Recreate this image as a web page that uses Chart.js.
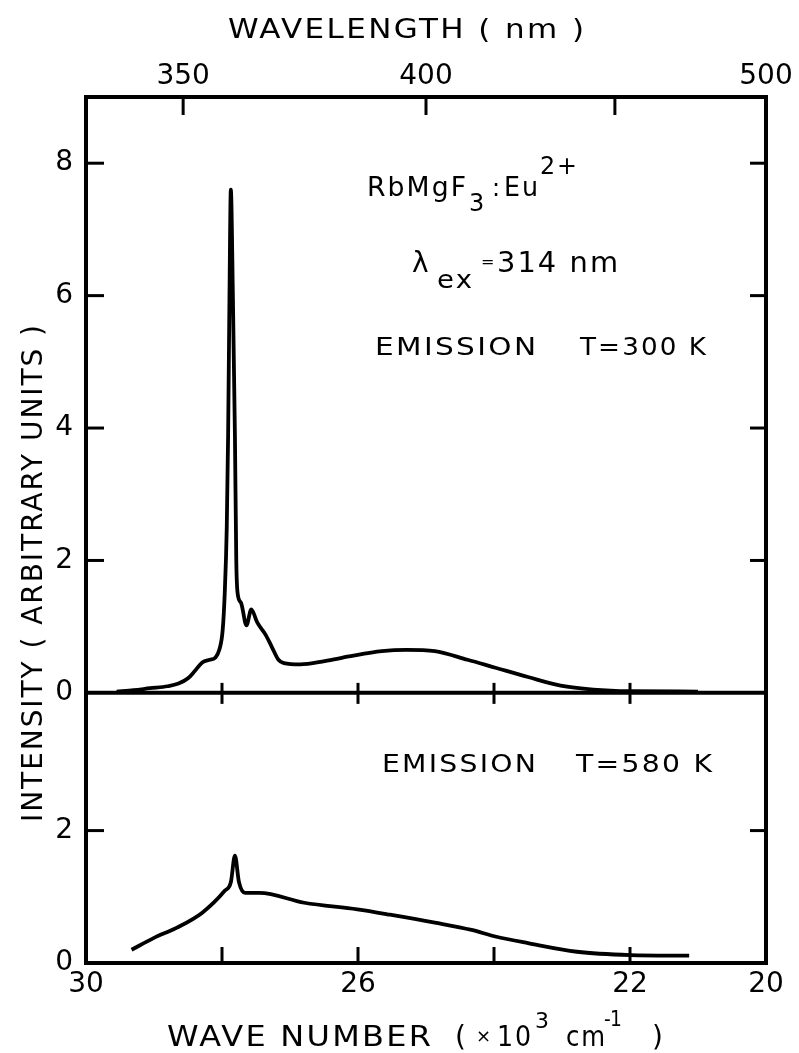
<!DOCTYPE html>
<html>
<head>
<meta charset="utf-8">
<script src="https://cdn.jsdelivr.net/npm/chart.js@4.4.1/dist/chart.umd.min.js"></script>
<style>
  html, body { margin: 0; padding: 0; background: #fff; }
  #contenedor { width: 799px; height: 1053px; }
</style>
</head>
<body>
<div id="contenedor"><canvas id="grafica" width="799" height="1053"></canvas></div>
<script>
// valores: numero de onda (x10^3 cm-1) e intensidad
const numOnda300 = [29.55, 29.3, 29.06, 28.8, 28.64, 28.5, 28.4, 28.29, 28.18, 28.1, 28.04, 27.99, 27.96, 27.93, 27.91, 27.89, 27.87, 27.84, 27.81, 27.79, 27.77, 27.72, 27.64, 27.57, 27.48, 27.36, 27.27, 27.17, 27.09, 26.85, 26.49, 26.13, 25.65, 25.29, 24.87, 24.39, 23.98, 23.5, 23.02, 22.54, 22.0, 21.0];
const intens300 = [0.02, 0.04, 0.07, 0.1, 0.14, 0.22, 0.33, 0.46, 0.5, 0.53, 0.65, 0.95, 1.5, 2.5, 3.9, 6.0, 7.6, 6.0, 3.9, 2.0, 1.5, 1.36, 1.02, 1.26, 1.06, 0.88, 0.7, 0.5, 0.45, 0.43, 0.48, 0.55, 0.63, 0.65, 0.63, 0.5, 0.38, 0.24, 0.11, 0.05, 0.025, 0.02];

const numOnda580 = [29.33, 29.0, 28.67, 28.29, 27.96, 27.87, 27.81, 27.75, 27.66, 27.45, 26.79, 26.01, 25.53, 24.87, 24.33, 23.98, 23.5, 22.78, 21.99, 21.13];
const intens580 = [0.2, 0.38, 0.53, 0.76, 1.09, 1.22, 1.62, 1.22, 1.06, 1.06, 0.91, 0.81, 0.73, 0.61, 0.5, 0.4, 0.3, 0.17, 0.12, 0.11];

// ejes
const marcasNumOnda = [28, 26, 24, 22];
const etiquetasNumOnda = [30, 26, 22, 20];
const marcasLongitud = [350, 400, 450];
const etiquetasLongitud = [350, 400, 500];
const ticksArriba = [0, 2, 4, 6, 8];
const ticksAbajo = [0, 2];

const FUENTE = "DejaVu Sans";

const aPuntos = (xs, ys) => xs.map((x, i) => ({ x, y: ys[i] }));

const linea = (ctx, x1, y1, x2, y2) => {
  ctx.beginPath();
  ctx.moveTo(x1, y1);
  ctx.lineTo(x2, y2);
  ctx.stroke();
};

// escribe un texto desde x0; si se da x1 lo ensancha (letras anchas) hasta ahi
const texto = (ctx, t, x0, y, size, x1) => {
  ctx.save();
  ctx.font = `${size}px "${FUENTE}"`;
  ctx.letterSpacing = "0px";
  let sx = 1;
  let ls = 0;
  if (x1 && t.length > 1) {
    const w = ctx.measureText(t).width;
    const n = t.length - 1;
    sx = Math.max(0.85, Math.min(1.45, (x1 - x0) / (w + 2 * n)));
    ls = ((x1 - x0) / sx - w) / n;
  }
  ctx.translate(x0, y);
  ctx.scale(sx, 1);
  ctx.letterSpacing = `${ls}px`;
  ctx.fillText(t, 0, 0);
  ctx.restore();
};

const marco = {
  id: "marco",
  afterDatasetsDraw(chart) {
    const { ctx, chartArea: a, scales } = chart;
    const y0 = scales.y.getPixelForValue(0);
    ctx.save();
    ctx.strokeStyle = "#000";
    ctx.lineCap = "square";
    ctx.lineWidth = 4;
    ctx.strokeRect(a.left, a.top, a.right - a.left, a.bottom - a.top);
    linea(ctx, a.left, y0, a.right, y0);

    ctx.lineWidth = 3;
    ctx.lineCap = "butt";
    marcasNumOnda.forEach((v) => {
      const x = scales.x.getPixelForValue(v);
      linea(ctx, x, a.bottom, x, a.bottom - 16);
      linea(ctx, x, y0 - 10, x, y0 + 11);
    });
    marcasLongitud.forEach((l) => {
      const x = scales.xTop.getPixelForValue(1e4 / l);
      linea(ctx, x, a.top, x, a.top + 18);
    });
    ticksArriba.slice(1).forEach((v) => {
      const y = scales.y.getPixelForValue(v);
      linea(ctx, a.left, y, a.left + 18, y);
      linea(ctx, a.right, y, a.right - 16, y);
    });
    ticksAbajo.slice(1).forEach((v) => {
      const y = scales.y2.getPixelForValue(v);
      linea(ctx, a.left, y, a.left + 18, y);
      linea(ctx, a.right, y, a.right - 16, y);
    });
    ctx.restore();
  },
};

const textos = {
  id: "textos",
  afterDraw(chart) {
    const { ctx } = chart;
    ctx.save();
    ctx.fillStyle = "#000";
    ctx.textBaseline = "alphabetic";
    ctx.textAlign = "left";

    texto(ctx, "WAVELENGTH ( nm )", 228, 38, 26, 584);

    texto(ctx, "RbMgF", 367, 196, 26, 466);
    texto(ctx, "3", 469, 211, 24);
    texto(ctx, ":", 492, 196, 24);
    texto(ctx, "Eu", 504, 196, 26, 538);
    texto(ctx, "2+", 540, 174, 24, 577);

    texto(ctx, "λ", 412, 272, 28);
    texto(ctx, "ex", 437, 288, 24, 472);
    texto(ctx, "=", 481, 267, 16);
    texto(ctx, "314 nm", 497, 272, 28, 618);

    texto(ctx, "EMISSION", 375, 355, 25, 536);
    texto(ctx, "T=300 K", 580, 355, 25, 706);
    texto(ctx, "EMISSION", 382, 772, 25, 536);
    texto(ctx, "T=580 K", 576, 772, 25, 712);

    texto(ctx, "WAVE NUMBER", 167, 1046, 28, 431);
    texto(ctx, "(", 455, 1046, 28);
    texto(ctx, "×", 476, 1042, 18);
    texto(ctx, "10", 497, 1046, 28, 531);
    texto(ctx, "3", 535, 1028, 22);
    texto(ctx, "cm", 566, 1046, 28, 605);
    texto(ctx, "-1", 604, 1026, 22, 622);
    texto(ctx, ")", 652, 1046, 28);

    // titulo vertical
    ctx.translate(42, 822);
    ctx.rotate(-Math.PI / 2);
    texto(ctx, "INTENSITY ( ARBITRARY UNITS )", 0, 0, 28, 497);
    ctx.restore();
  },
};

const fuenteTicks = { family: FUENTE, size: 28 };

const ejeY = (max, valores, peso) => ({
  type: "linear",
  position: "left",
  stack: "paneles",
  stackWeight: peso,
  min: 0,
  max: max,
  afterBuildTicks: (s) => { s.ticks = valores.map((v) => ({ value: v })); },
  afterFit: (s) => { s.width = 86; },
  grid: { display: false, drawTicks: false },
  border: { display: false },
  ticks: { font: fuenteTicks, color: "#000", padding: 13, autoSkip: false },
});

new Chart("grafica", {
  type: "line",
  data: {
    datasets: [
      {
        data: aPuntos(numOnda300, intens300),
        yAxisID: "y",
        borderColor: "#000",
        borderWidth: 3.8,
        pointRadius: 0,
        cubicInterpolationMode: "monotone",
      },
      {
        data: aPuntos(numOnda580, intens580),
        yAxisID: "y2",
        borderColor: "#000",
        borderWidth: 3.8,
        pointRadius: 0,
        cubicInterpolationMode: "monotone",
      },
    ],
  },
  options: {
    responsive: false,
    animation: false,
    devicePixelRatio: 1,
    layout: { padding: { left: 0, right: 33, top: 0, bottom: 0 } },
    plugins: { legend: { display: false }, tooltip: { enabled: false } },
    scales: {
      x: {
        type: "linear",
        position: "bottom",
        reverse: true,
        min: 20,
        max: 30,
        afterBuildTicks: (s) => { s.ticks = etiquetasNumOnda.map((v) => ({ value: v })); },
        afterFit: (s) => { s.height = 90; },
        grid: { display: false, drawTicks: false },
        border: { display: false },
        ticks: { font: fuenteTicks, color: "#000", padding: 5, maxRotation: 0, autoSkip: false },
      },
      xTop: {
        type: "linear",
        position: "top",
        reverse: true,
        min: 20,
        max: 30,
        afterBuildTicks: (s) => { s.ticks = etiquetasLongitud.map((l) => ({ value: 1e4 / l })); },
        afterFit: (s) => { s.height = 97; },
        grid: { display: false, drawTicks: false },
        border: { display: false },
        ticks: {
          font: fuenteTicks,
          color: "#000",
          padding: 3,
          maxRotation: 0,
          autoSkip: false,
          callback: (v) => Math.round(1e4 / v),
        },
      },
      y2: ejeY(4.08, ticksAbajo, 4.08),
      y: ejeY(9, ticksArriba, 9),
    },
  },
  plugins: [marco, textos],
});
</script>
</body>
</html>
